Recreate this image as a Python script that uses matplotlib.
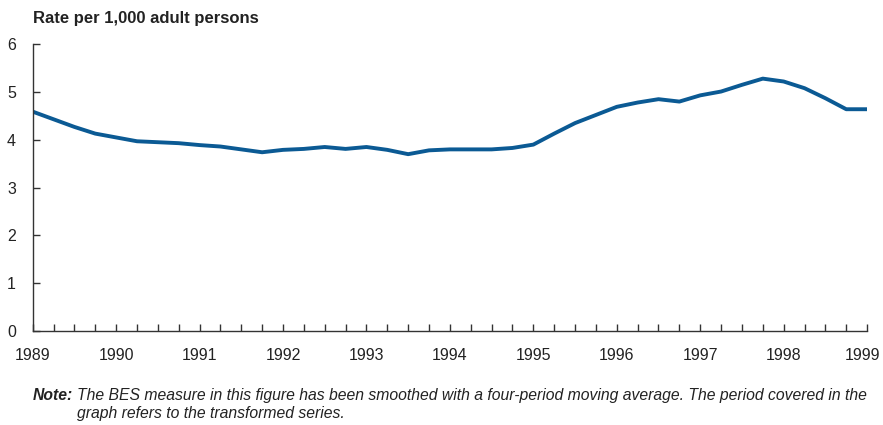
import matplotlib
matplotlib.use("Agg")
from matplotlib import pyplot as plt
from matplotlib import transforms

plt.rcParams['font.family'] = ['Liberation Sans', 'DejaVu Sans']

# quarterly, 1989 Q1 .. 1999 Q1 (four-period moving average)
quarters = [1989 + i * 0.25 for i in range(41)]
rate = [4.59, 4.43, 4.27, 4.13, 4.05, 3.97, 3.95, 3.93, 3.89, 3.86,
        3.80, 3.74, 3.79, 3.81, 3.85, 3.81, 3.85, 3.79, 3.70, 3.78,
        3.80, 3.80, 3.80, 3.83, 3.90, 4.13, 4.35, 4.52, 4.69, 4.78,
        4.85, 4.80, 4.93, 5.01, 5.15, 5.28, 5.22, 5.08, 4.87, 4.64,
        4.64]
years = list(range(1989, 2000))
yticks = [0, 1, 2, 3, 4, 5, 6]

title = "Rate per 1,000 adult persons"
note_head = "Note:"
note_body = ("The BES measure in this figure has been smoothed with a four-period moving average. The period covered in the\n"
             "graph refers to the transformed series.")

fig = plt.figure(figsize=(8.83, 4.25), dpi=100)
ax = fig.add_axes([0.037, 0.221, 0.945, 0.675])

ax.plot(quarters, rate, color='#0b5a94', linewidth=2.8, solid_capstyle='butt')

ax.set_xlim(1989, 1999)
ax.set_ylim(0, 6)
ax.set_xticks(quarters)
ax.set_xticklabels([str(int(q)) if q == int(q) else "" for q in quarters])
ax.set_yticks(yticks)
ax.tick_params(axis='both', direction='in', length=5, width=1, color='#333333',
               labelsize=11.5, labelcolor='#222222')
ax.tick_params(axis='x', pad=12)
ax.tick_params(axis='y', pad=12)

# keep the last year label inside the canvas
last = ax.get_xticklabels()[-1]
last.set_transform(last.get_transform() + transforms.ScaledTranslation(-3 / 72, 0, fig.dpi_scale_trans))

for side in ['top', 'right']:
    ax.spines[side].set_visible(False)
for side in ['left', 'bottom']:
    ax.spines[side].set_color('#333333')
    ax.spines[side].set_linewidth(1)

fig.text(0.037, 0.957, title, fontsize=12, fontweight='bold', color='#222222', va='center')
fig.text(0.037, 0.088, note_head, fontsize=11.3, fontweight='bold', style='italic',
         color='#222222', va='top')
fig.text(0.087, 0.088, note_body, fontsize=11.3, style='italic', color='#222222',
         va='top', linespacing=1.25)

fig.savefig("out.png", dpi=100)
